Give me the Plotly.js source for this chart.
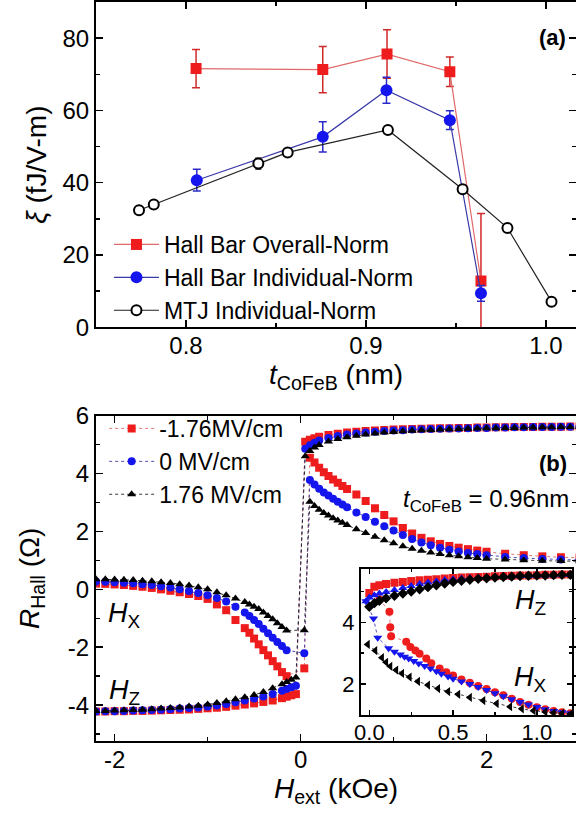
<!DOCTYPE html>
<html><head><meta charset="utf-8">
<script src="https://cdn.plot.ly/plotly-3.0.1.min.js"></script>
<style>html,body{margin:0;padding:0;background:#fff}</style>
</head><body><div id="chart" style="width:576px;height:815px"></div>
<script>
// ---------- Panel (a) data ----------
const tRed = [0.8056, 0.876, 0.9117, 0.9466, 0.9639];
const xiRed = [71.6, 71.3, 75.6, 70.7, 12.8];
const errRed = [5.3, 6.4, 6.7, 4.1, 18.7];
const tBlue = [0.806, 0.876, 0.9114, 0.9466, 0.9639];
const xiBlue = [40.7, 52.7, 65.6, 57.3, 9.4];
const errBlue = [3.0, 4.2, 3.6, 2.6, 2.2];
const tMTJ = [0.7739, 0.7821, 0.8402, 0.8565, 0.9122, 0.9537, 0.9786, 1.0031];
const xiMTJ = [32.4, 34.0, 45.3, 48.4, 54.6, 38.2, 27.5, 7.1];
const errMTJ = [0.5, 0.5, 1.5, 0.8, 0.8, 1.0, 1.0, 0.8];
const legendA = ['Hall Bar Overall-Norm', 'Hall Bar Individual-Norm', 'MTJ Individual-Norm'];

// ---------- Panel (b) main data ----------
const legendB = ['-1.76MV/cm', '0 MV/cm', '1.76 MV/cm'];
const hzNegX = [-2.2,-2.1,-2.0,-1.9,-1.8,-1.7,-1.6,-1.5,-1.4,-1.3,-1.2,-1.1,-1.0,-0.9,-0.8,-0.7,-0.6,-0.5,-0.4,-0.3,-0.2,-0.15,-0.1,-0.05];
const hzNegRed = [-4.22,-4.22,-4.21,-4.21,-4.2,-4.2,-4.19,-4.18,-4.17,-4.16,-4.15,-4.13,-4.11,-4.09,-4.06,-4.02,-3.98,-3.94,-3.89,-3.84,-3.76,-3.71,-3.66,-3.62];
const hzNegBlue = [-4.22,-4.21,-4.21,-4.2,-4.19,-4.18,-4.17,-4.16,-4.14,-4.12,-4.1,-4.08,-4.05,-4.01,-3.96,-3.9,-3.84,-3.77,-3.7,-3.62,-3.5,-3.44,-3.38,-3.33];
const hzNegBlack = [-4.2,-4.2,-4.19,-4.18,-4.17,-4.16,-4.14,-4.12,-4.1,-4.08,-4.05,-4.02,-3.98,-3.93,-3.87,-3.8,-3.73,-3.65,-3.55,-3.42,-3.28,-3.2,-3.12,-3.05];
const hzPosX = [0.05,0.1,0.15,0.2,0.3,0.4,0.5,0.6,0.7,0.8,0.9,1.0,1.1,1.2,1.3,1.4,1.5,1.6,1.7,1.8,1.9,2.0,2.1,2.2,2.3,2.4,2.5,2.6,2.7,2.8,2.9,3.0];
const hzPosRed = [5.10,5.17,5.22,5.27,5.33,5.38,5.42,5.45,5.47,5.49,5.51,5.52,5.53,5.54,5.55,5.56,5.57,5.57,5.58,5.58,5.59,5.59,5.60,5.60,5.61,5.61,5.61,5.62,5.62,5.62,5.63,5.63];
const hzPosBlue = [4.86,4.98,5.07,5.14,5.23,5.30,5.35,5.39,5.42,5.45,5.47,5.49,5.50,5.52,5.53,5.54,5.55,5.56,5.56,5.57,5.58,5.58,5.59,5.59,5.60,5.60,5.61,5.61,5.61,5.62,5.62,5.62];
const hzPosBlack = [4.60,4.78,4.90,4.99,5.11,5.20,5.26,5.31,5.35,5.39,5.42,5.44,5.46,5.48,5.50,5.51,5.52,5.53,5.54,5.55,5.56,5.57,5.57,5.58,5.58,5.59,5.59,5.60,5.60,5.61,5.61,5.61];

const hxNegX = [-2.2,-2.1,-2.0,-1.9,-1.8,-1.7,-1.6,-1.5,-1.4,-1.3,-1.2,-1.1,-1.0,-0.9,-0.8,-0.7,-0.6,-0.55,-0.5,-0.45,-0.4,-0.35,-0.3,-0.25,-0.2,-0.15,0.04];
const hxNegRed = [0.2,0.19,0.17,0.15,0.12,0.09,0.05,0.0,-0.05,-0.1,-0.16,-0.23,-0.33,-0.52,-0.72,-1.06,-1.34,-1.5,-1.7,-1.9,-2.1,-2.28,-2.48,-2.66,-2.86,-3.0,-2.73];
const hxNegBlue = [0.27,0.26,0.25,0.23,0.21,0.18,0.15,0.11,0.06,0.0,-0.06,-0.13,-0.2,-0.3,-0.42,-0.6,-0.8,-0.92,-1.06,-1.2,-1.36,-1.52,-1.67,-1.82,-1.96,-2.1,-2.21];
const hxNegBlack = [0.35,0.35,0.34,0.33,0.32,0.3,0.28,0.25,0.22,0.18,0.13,0.07,0.0,-0.1,-0.2,-0.32,-0.44,-0.52,-0.6,-0.68,-0.8,-0.92,-1.03,-1.17,-1.3,-1.42,-1.41];
const hxPosX = [0.1,0.15,0.2,0.25,0.3,0.35,0.4,0.45,0.5,0.6,0.7,0.8,0.9,1.0,1.1,1.2,1.3,1.4,1.5,1.6,1.7,1.8,1.9,2.0,2.2,2.4,2.6,2.8,3.0];
const hxPosRed = [4.55,4.38,4.2,4.05,3.92,3.8,3.68,3.57,3.47,3.28,3.05,2.8,2.57,2.35,2.12,1.93,1.78,1.66,1.57,1.5,1.44,1.39,1.34,1.3,1.23,1.18,1.14,1.11,1.09];
const hxPosBlue = [3.78,3.62,3.48,3.35,3.24,3.13,3.03,2.93,2.84,2.66,2.5,2.34,2.18,2.03,1.88,1.74,1.62,1.52,1.44,1.37,1.31,1.26,1.22,1.18,1.12,1.08,1.05,1.03,1.01];
const hxPosBlack = [3.03,2.88,2.75,2.64,2.55,2.46,2.38,2.3,2.22,2.08,1.95,1.82,1.7,1.59,1.49,1.4,1.33,1.27,1.22,1.18,1.14,1.11,1.08,1.06,1.03,1.01,0.99,0.98,0.97];

// ---------- Inset data ----------
const inHzRedX = [0.0,0.03,0.06,0.1,0.15,0.2,0.25,0.3,0.35,0.4,0.45,0.5,0.55,0.6,0.65,0.7,0.75,0.8,0.85,0.9,0.95,1.0,1.05,1.1,1.15,1.2];
const inHzRedY = [4.95,5.15,5.2,5.24,5.28,5.31,5.34,5.36,5.38,5.4,5.42,5.44,5.45,5.46,5.47,5.48,5.49,5.5,5.51,5.52,5.52,5.53,5.54,5.54,5.55,5.55];
const inHzBlueX = [-0.02,0.0,0.03,0.06,0.1,0.15,0.2,0.25,0.3,0.35,0.4,0.45,0.5,0.55,0.6,0.65,0.7,0.75,0.8,0.85,0.9,0.95,1.0,1.05,1.1,1.15,1.2];
const inHzBlueY = [4.68,4.8,4.88,4.93,4.98,5.05,5.11,5.18,5.24,5.29,5.33,5.37,5.4,5.42,5.44,5.45,5.46,5.47,5.48,5.49,5.5,5.51,5.52,5.52,5.53,5.54,5.54];
const inHzBlackX = [0.0,0.03,0.06,0.1,0.15,0.2,0.25,0.3,0.35,0.4,0.45,0.5,0.55,0.6,0.65,0.7,0.75,0.8,0.85,0.9,0.95,1.0,1.05,1.1,1.15,1.2];
const inHzBlackY = [4.5,4.62,4.7,4.78,4.86,4.93,5.0,5.07,5.14,5.2,5.26,5.31,5.35,5.38,5.41,5.43,5.45,5.47,5.48,5.5,5.51,5.52,5.52,5.53,5.54,5.54];
const inHxRedX = [0.06,0.12,0.125,0.13,0.22,0.245,0.275,0.3,0.34,0.37,0.42,0.46,0.5,0.55,0.6,0.65,0.7,0.75,0.8,0.85,0.9,0.95,1.0,1.05,1.1,1.15,1.2];
const inHxRedY = [4.75,4.34,3.84,3.55,3.37,3.2,3.08,2.98,2.82,2.67,2.5,2.38,2.27,2.14,2.04,1.93,1.83,1.73,1.63,1.52,1.41,1.32,1.24,1.18,1.12,1.08,1.05];
const inHxBlueX = [-0.02,0.025,0.05,0.115,0.15,0.185,0.21,0.235,0.265,0.295,0.33,0.365,0.4,0.43,0.47,0.5,0.55,0.6,0.65,0.7,0.75,0.8,0.85,0.9,0.95,1.0,1.05,1.1,1.15,1.2];
const inHxBlueY = [4.68,4.12,3.5,3.16,3.04,2.95,2.88,2.82,2.74,2.66,2.58,2.5,2.41,2.33,2.24,2.17,2.08,2.0,1.9,1.8,1.7,1.6,1.5,1.41,1.33,1.25,1.18,1.12,1.08,1.05];
const inHxBlackX = [-0.01,0.035,0.075,0.1,0.125,0.16,0.195,0.24,0.29,0.35,0.41,0.47,0.53,0.6,0.68,0.76,0.84,0.91,0.98,1.05,1.1,1.15,1.2];
const inHxBlackY = [3.28,3.08,2.85,2.7,2.57,2.45,2.34,2.22,2.08,1.96,1.85,1.75,1.66,1.56,1.46,1.36,1.26,1.19,1.13,1.09,1.06,1.04,1.02];

// ---------- Tick labels ----------
const yTickValsB = [-4, -2, 0, 2, 4, 6];
const yTickTextB = ['-4', '-2', '0', '2', '4', '6'];
const xTickValsB = [-2, 0, 2];
const xTickTextB = ['-2', '0', '2'];

const FONT = 'Arial, "Liberation Sans", sans-serif';
const RED = '#ee1c1c', BLUE = '#1515ee', BLACK = '#000000';
const RED_L = '#e06a6a', BLUE_L = '#3a3aa8', BLACK_L = '#222222';

const traces = [];
// Panel (a)
traces.push({x: tRed, y: xiRed, xaxis: 'x', yaxis: 'y', type: 'scatter', mode: 'lines+markers', name: legendA[0], legend: 'legend',
  line: {color: RED_L, width: 1.2}, marker: {symbol: 'square', size: 11, color: RED},
  error_y: {type: 'data', array: errRed, visible: true, color: '#d02a2a', thickness: 1.5, width: 4}});
traces.push({x: tBlue, y: xiBlue, xaxis: 'x', yaxis: 'y', type: 'scatter', mode: 'lines+markers', name: legendA[1], legend: 'legend',
  line: {color: BLUE_L, width: 1.2}, marker: {symbol: 'circle', size: 12, color: BLUE},
  error_y: {type: 'data', array: errBlue, visible: true, color: '#2a2ac8', thickness: 1.5, width: 4}});
traces.push({x: tMTJ, y: xiMTJ, xaxis: 'x', yaxis: 'y', type: 'scatter', mode: 'lines+markers', name: legendA[2], legend: 'legend',
  line: {color: BLACK_L, width: 1.2}, marker: {symbol: 'circle', size: 10, color: '#ffffff', line: {color: BLACK, width: 2}},
  error_y: {type: 'data', array: errMTJ, visible: true, color: BLACK, thickness: 1.5, width: 3}});

// Panel (b) main
const hzSets = [[hzNegRed, hzPosRed, RED, RED_L, 'square'], [hzNegBlue, hzPosBlue, BLUE, BLUE_L, 'circle'], [hzNegBlack, hzPosBlack, BLACK, BLACK_L, 'triangle-up']];
const hxSets = [[hxNegRed, hxPosRed], [hxNegBlue, hxPosBlue], [hxNegBlack, hxPosBlack]];
for (let i = 0; i < 3; i++) {
  const s = hzSets[i];
  traces.push({x: hzNegX.concat(hzPosX), y: s[0].concat(s[1]), xaxis: 'x2', yaxis: 'y2', type: 'scatter', mode: 'lines+markers',
    showlegend: false, line: {color: s[3], width: 0.9, dash: 'dot'}, marker: {symbol: s[4], size: 8, color: s[2]}});
  traces.push({x: hxNegX.concat(hxPosX), y: hxSets[i][0].concat(hxSets[i][1]), xaxis: 'x2', yaxis: 'y2', type: 'scatter', mode: 'lines+markers',
    name: legendB[i], legend: 'legend2', line: {color: s[3], width: 0.9, dash: 'dot'}, marker: {symbol: s[4], size: 8, color: s[2]}});
}

// Inset
const insetSets = [
  [inHzRedX, inHzRedY, RED, RED_L, 'square'],
  [inHxRedX, inHxRedY, RED, RED_L, 'circle'],
  [inHzBlueX, inHzBlueY, BLUE, BLUE_L, 'triangle-up'],
  [inHxBlueX, inHxBlueY, BLUE, BLUE_L, 'triangle-down'],
  [inHzBlackX, inHzBlackY, BLACK, BLACK_L, 'diamond'],
  [inHxBlackX, inHxBlackY, BLACK, BLACK_L, 'triangle-left']
];
insetSets.forEach(s => traces.push({x: s[0], y: s[1], xaxis: 'x3', yaxis: 'y3', type: 'scatter', mode: 'lines+markers',
  showlegend: false, line: {color: s[3], width: 0.9, dash: 'dot'}, marker: {symbol: s[4], size: 8, color: s[2]}}));

function ax(extra) {
  return Object.assign({showline: true, linewidth: 2, linecolor: '#000', mirror: 'allticks', ticks: 'inside', ticklen: 7,
    tickwidth: 1.5, tickcolor: '#000', showgrid: false, zeroline: false, automargin: false,
    tickfont: {family: FONT, size: 24, color: '#000'}}, extra);
}
const titleFont = {family: FONT, size: 28, color: '#000'};
function note(text, px, py, size) {
  return {text: text, xref: 'paper', yref: 'paper', x: (px - 96) / 480, y: (815 - py) / 815, xanchor: 'center', yanchor: 'middle',
    showarrow: false, font: {family: FONT, size: size, color: '#000'}};
}

const layout = {
  width: 576, height: 815,
  margin: {l: 96, r: 0, t: 0, b: 0},
  paper_bgcolor: '#fff', plot_bgcolor: 'rgba(0,0,0,0)',
  hovermode: false,
  showlegend: true,
  xaxis: ax({domain: [0, 1], anchor: 'y', range: [0.75, 1.0167], tick0: 0.8, dtick: 0.1, tickformat: '.1f', ticklabelstandoff: -4,
    minor: {ticks: 'inside', ticklen: 4, tickwidth: 1.5, tickcolor: '#000', dtick: 0.05, tick0: 0.75},
    title: {text: '<i>t</i><sub>CoFeB</sub> (nm)', font: titleFont, standoff: 4}}),
  yaxis: ax({domain: [0.5984, 0.9975], anchor: 'x', range: [0, 90], dtick: 20,
    minor: {ticks: 'inside', ticklen: 4, tickwidth: 1.5, tickcolor: '#000', dtick: 10},
    title: {text: '<i>ξ</i> (fJ/V-m)', font: titleFont, standoff: 8}}),
  xaxis2: ax({domain: [0, 1], anchor: 'y2', range: [-2.2, 2.962], tickvals: xTickValsB, ticktext: xTickTextB, ticklabelstandoff: -4,
    minor: {ticks: 'inside', ticklen: 4, tickwidth: 1.5, tickcolor: '#000', dtick: 1, tick0: 0},
    title: {text: '<i>H</i><sub>ext</sub> (kOe)', font: titleFont, standoff: 0}}),
  yaxis2: ax({domain: [0.0908, 0.4899], anchor: 'x2', range: [-5.24, 6], tickvals: yTickValsB, ticktext: yTickTextB,
    minor: {ticks: 'inside', ticklen: 4, tickwidth: 1.5, tickcolor: '#000', dtick: 1, tick0: 0},
    title: {text: '<i>R</i><sub>Hall</sub> (Ω)', font: titleFont, standoff: 20}}),
  xaxis3: ax({domain: [0.552, 0.9917], anchor: 'y3', range: [-0.05, 1.21], tick0: 0, dtick: 0.5, tickformat: '.1f', ticklen: 5,
    tickfont: {family: FONT, size: 22, color: '#000'}, ticklabelstandoff: -3,
    minor: {ticks: 'inside', ticklen: 3, tickwidth: 1.2, tickcolor: '#000', dtick: 0.25, tick0: 0}}),
  yaxis3: ax({domain: [0.1227, 0.3015], anchor: 'x3', range: [0.99, 5.72], tick0: 0, dtick: 2, ticklen: 5,
    tickfont: {family: FONT, size: 22, color: '#000'},
    minor: {ticks: 'inside', ticklen: 3, tickwidth: 1.2, tickcolor: '#000', dtick: 1, tick0: 0}}),
  legend: {x: 0.027, y: (815 - 223) / 815, xanchor: 'left', yanchor: 'top', bgcolor: 'rgba(0,0,0,0)', itemwidth: 45,
    font: {family: FONT, size: 23, color: '#000'}, tracegroupgap: 0},
  legend2: {x: 0.017, y: (815 - 407) / 815, xanchor: 'left', yanchor: 'top', bgcolor: 'rgba(0,0,0,0)', itemwidth: 45,
    font: {family: FONT, size: 23, color: '#000'}, tracegroupgap: 0},
  annotations: [
    note('<b>(a)</b>', 552, 38, 22),
    note('<b>(b)</b>', 553, 463, 22),
    note('<i>t</i><sub>CoFeB</sub> = 0.96nm', 486, 500, 24),
    note('<i>H</i><sub>X</sub>', 124, 615, 27),
    note('<i>H</i><sub>Z</sub>', 124, 692, 27),
    note('<i>H</i><sub>Z</sub>', 530, 602, 27),
    note('<i>H</i><sub>X</sub>', 530, 679, 27)
  ]
};

Plotly.newPlot('chart', traces, layout, {displayModeBar: false, staticPlot: true});
</script></body></html>
